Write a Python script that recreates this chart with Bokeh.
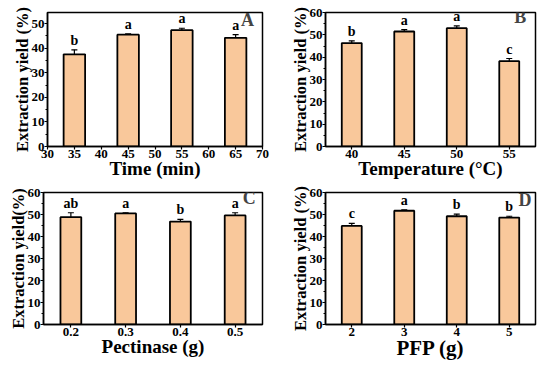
from bokeh.plotting import figure
from bokeh.layouts import column, row
from bokeh.models import ColumnDataSource, Whisker, Label, Range1d, FactorRange, SingleIntervalTicker
from bokeh.core.properties import value
from bokeh.embed import file_html
from bokeh.resources import INLINE

# Panel A: time
a_x = [35, 45, 55, 65]
a_y = [37.5, 45.5, 47.3, 44.2]
a_err = [1.8, 0.3, 0.8, 1.3]
a_let = ["b", "a", "a", "a"]

# Panel B: temperature
b_x = ["40", "45", "50", "55"]
b_y = [46.3, 51.5, 53.0, 38.2]
b_err = [1.0, 0.8, 1.0, 1.2]
b_let = ["b", "a", "a", "c"]

# Panel C: pectinase
c_x = ["0.2", "0.3", "0.4", "0.5"]
c_y = [48.8, 50.5, 46.8, 49.6]
c_err = [2.0, 0.3, 1.0, 1.2]
c_let = ["ab", "a", "b", "a"]

# Panel D: PFP
d_x = ["2", "3", "4", "5"]
d_y = [44.8, 51.7, 49.2, 48.6]
d_err = [1.2, 0.4, 1.0, 0.6]
d_let = ["c", "a", "b", "b"]

FONT = "Liberation Serif"
BAR = "#F9C89B"


def make(xs, ys, errs, lets, xlabel, xsize, ylabel, panel, panel_xy, xr, ymax, bw,
         width, borders, numeric=False):
    bl, br, bt, bb = borders
    p = figure(width=width, height=181, output_backend="svg", toolbar_location=None,
               x_range=xr, y_range=Range1d(0, ymax),
               min_border_left=bl, min_border_right=br, min_border_top=bt,
               min_border_bottom=bb)
    src = ColumnDataSource(dict(x=xs, top=ys, upper=[y + e for y, e in zip(ys, errs)],
                                lower=[y - e for y, e in zip(ys, errs)],
                                lab=lets))
    p.vbar(x="x", top="top", width=bw, source=src, fill_color=BAR,
           line_color="black", line_width=1.8)
    w = Whisker(base="x", upper="upper", lower="lower", source=src,
                line_color="black", line_width=1.2)
    w.upper_head.size = 6
    w.lower_head.size = 6
    w.upper_head.line_width = 1.2
    w.lower_head.line_width = 1.2
    p.add_layout(w)
    p.text(x="x", y="upper", text="lab", source=src, text_font=value(FONT),
           text_font_style="bold", text_font_size="14px", text_align="center",
           text_baseline="bottom", y_offset=-2, text_color="black")
    p.add_layout(Label(x=panel_xy[0], y=panel_xy[1], text=panel, text_font=FONT,
                       text_font_style="bold", text_font_size="18px",
                       text_align="center", text_baseline="bottom"))
    p.grid.visible = False
    p.outline_line_color = "black"
    p.outline_line_width = 1.5
    p.outline_line_alpha = 1
    for ax in (p.xaxis[0], p.yaxis[0]):
        ax.axis_line_color = "black"
        ax.axis_line_width = 1.5
        ax.major_tick_line_width = 1.2
        ax.minor_tick_line_width = 1
        ax.major_tick_in = 0
        ax.major_tick_out = 3
        ax.minor_tick_in = 0
        ax.minor_tick_out = 2
        ax.major_label_text_font = FONT
        ax.major_label_text_font_style = "bold"
        ax.major_label_text_font_size = "13px"
        ax.major_label_text_color = "black"
        ax.axis_label_text_font = FONT
        ax.axis_label_text_font_style = "bold"
        ax.axis_label_text_color = "black"
        ax.major_label_standoff = 0
        ax.axis_label_standoff = -3
    p.xaxis.axis_label = xlabel
    p.yaxis.axis_label = ylabel
    p.xaxis.axis_label_text_font_size = xsize
    p.yaxis.axis_label_text_font_size = "16.5px"
    p.yaxis.ticker = SingleIntervalTicker(interval=10, num_minor_ticks=2)
    if numeric:
        p.xaxis.ticker = SingleIntervalTicker(interval=5, num_minor_ticks=0)
    return p


pa = make(a_x, a_y, a_err, a_let, "Time (min)", "19px", "Extraction yield (%)", "A",
          (67.2, 47.4), Range1d(30, 70), 54.5, 4, 273, (47, 11, 12, 35), numeric=True)
pb = make(b_x, b_y, b_err, b_let, "Temperature (°C)", "19px", "Extraction yield (%)", "B",
          (3.71, 53.6), FactorRange(*b_x), 60, 0.38, 265, (52, 3, 12, 35))
pc = make(c_x, c_y, c_err, c_let, "Pectinase (g)", "19px", "Extraction yield(%)", "C",
          (3.76, 53), FactorRange(*c_x), 60, 0.38, 273, (43, 11, 11, 38))
pd = make(d_x, d_y, d_err, d_let, "PFP (g)", "21px", "Extraction yield (%)", "D",
          (3.8, 52), FactorRange(*d_x), 60, 0.38, 265, (52, 3, 11, 38))

layout = column(row(pa, pb, spacing=0), row(pc, pd, spacing=0), spacing=0)
open("out.html", "w").write(file_html(layout, INLINE))
